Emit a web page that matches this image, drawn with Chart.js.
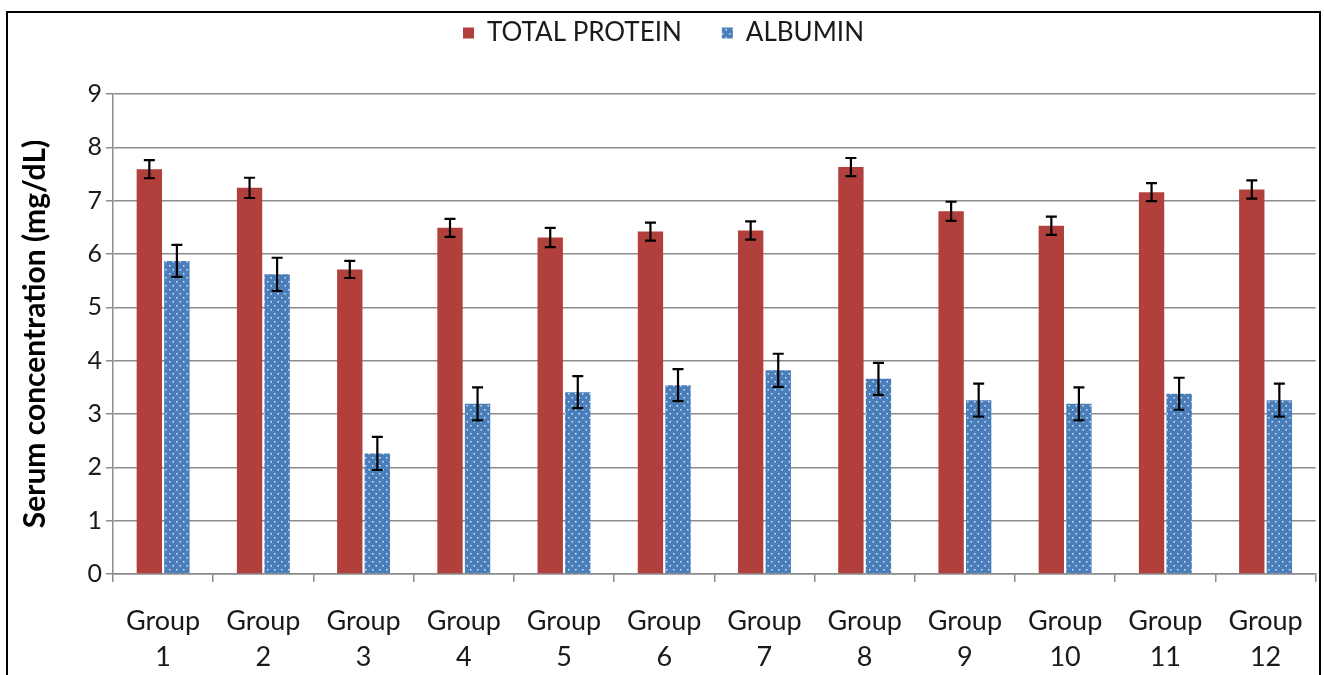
<!DOCTYPE html>
<html>
<head>
<meta charset="utf-8">
<script src="https://cdn.jsdelivr.net/npm/chart.js@4/dist/chart.umd.min.js"></script>
<style>
  html, body { margin: 0; padding: 0; background: #fff; overflow: hidden; }
  #wrap { position: relative; width: 1324px; height: 675px; }
  #chart { position: absolute; left: 0; top: 0; }
  #frame { position: absolute; left: 6px; top: 11px; width: 1315px; height: 700px;
           border: 2px solid #000; box-sizing: border-box; pointer-events: none; }
</style>
</head>
<body>
<div id="wrap">
  <canvas id="chart" width="1324" height="675"></canvas>
  <div id="frame"></div>
</div>
<script>
// data
const groups = [
  ['Group', '1'], ['Group', '2'], ['Group', '3'], ['Group', '4'],
  ['Group', '5'], ['Group', '6'], ['Group', '7'], ['Group', '8'],
  ['Group', '9'], ['Group', '10'], ['Group', '11'], ['Group', '12']
]
const totalProtein    = [7.59, 7.24, 5.71, 6.49, 6.31, 6.42, 6.44, 7.63, 6.80, 6.53, 7.16, 7.21]
const totalProteinErr = [0.17, 0.19, 0.16, 0.17, 0.18, 0.17, 0.17, 0.17, 0.18, 0.17, 0.17, 0.17]
const albumin         = [5.87, 5.62, 2.26, 3.19, 3.41, 3.54, 3.82, 3.66, 3.26, 3.19, 3.38, 3.26]
const albuminErr      = [0.30, 0.31, 0.31, 0.31, 0.30, 0.30, 0.31, 0.30, 0.31, 0.31, 0.30, 0.31]
const yMin = 0
const yMax = 9
const yStep = 1

const FONT = 'Lato'

// blue fill with small white dots
function dotPattern() {
  let c = document.createElement('canvas')
  c.width = 7; c.height = 8
  let g = c.getContext('2d')
  g.fillStyle = '#4A7EBB'
  g.fillRect(0, 0, 7, 8)
  g.fillStyle = 'rgba(255,255,255,0.8)'
  g.fillRect(1, 1, 1.5, 1.5)
  g.fillRect(4.5, 5, 1.5, 1.5)
  return g.createPattern(c, 'repeat')
}

// black I-shaped error bars, placed with the y scale
const errorBars = {
  id: 'errorBars',
  afterDatasetsDraw(chart) {
    let ctx = chart.ctx
    let y = chart.scales.y
    ctx.save()
    ctx.strokeStyle = '#000'
    ctx.lineWidth = 2.2
    chart.data.datasets.forEach((ds, i) => {
      let meta = chart.getDatasetMeta(i)
      meta.data.forEach((bar, j) => {
        let hi = y.getPixelForValue(ds.data[j] + ds.errors[j])
        let lo = y.getPixelForValue(ds.data[j] - ds.errors[j])
        let x = bar.x
        let cap = 5.5
        ctx.beginPath()
        ctx.moveTo(x, hi); ctx.lineTo(x, lo)
        ctx.moveTo(x - cap, hi); ctx.lineTo(x + cap, hi)
        ctx.moveTo(x - cap, lo); ctx.lineTo(x + cap, lo)
        ctx.stroke()
      })
    })
    ctx.restore()
  }
}

// leave a gap under the legend, like the original
const legendGap = {
  id: 'legendGap',
  afterInit(chart) {
    let fit = chart.legend.fit
    chart.legend.fit = function() {
      fit.call(this)
      this.height += 38
    }
  }
}

let ctx = document.getElementById('chart').getContext('2d')
let chart = new Chart(ctx, {
  type: 'bar',
  data: {
    labels: groups,
    datasets: [{
      label: 'TOTAL PROTEIN',
      data: totalProtein,
      errors: totalProteinErr,
      backgroundColor: '#B1403D',
      borderWidth: 0,
      categoryPercentage: 0.55,
      barPercentage: 0.92
    },
    {
      label: 'ALBUMIN',
      data: albumin,
      errors: albuminErr,
      backgroundColor: dotPattern(),
      borderWidth: 0,
      categoryPercentage: 0.55,
      barPercentage: 0.92
    }]
  },
  options: {
    responsive: false,
    animation: false,
    layout: { padding: { top: -20, left: 10, right: 7, bottom: 0 } },
    plugins: {
      legend: {
        labels: {
          boxWidth: 11, boxHeight: 11, padding: 40, color: '#1a1a1a',
          font: { family: FONT, size: 26 }
        }
      },
      tooltip: { enabled: false }
    },
    scales: {
      x: {
        grid: { drawOnChartArea: false, drawTicks: true, tickLength: 8, color: '#8c8c8c', lineWidth: 1.5, offset: true },
        border: { color: '#8c8c8c', width: 1.5 },
        ticks: { color: '#1a1a1a', maxRotation: 0, padding: 21, font: { family: FONT, size: 27, lineHeight: 1.33 } },
        afterFit(s) { s.height = 101 }
      },
      y: {
        min: yMin, max: yMax,
        ticks: { stepSize: yStep, color: '#1a1a1a', padding: 4, font: { family: FONT, size: 25 } },
        grid: { color: '#8c8c8c', lineWidth: 1.5, tickLength: 7 },
        border: { color: '#8c8c8c', width: 1.5 },
        title: {
          display: true, text: 'Serum concentration (mg/dL)', color: '#000',
          padding: { top: 7, bottom: 0 },
          font: { family: FONT, size: 30, weight: 'bold' }
        },
        afterFit(s) { s.width = 103 }
      }
    }
  },
  plugins: [errorBars, legendGap]
})
</script>
</body>
</html>
